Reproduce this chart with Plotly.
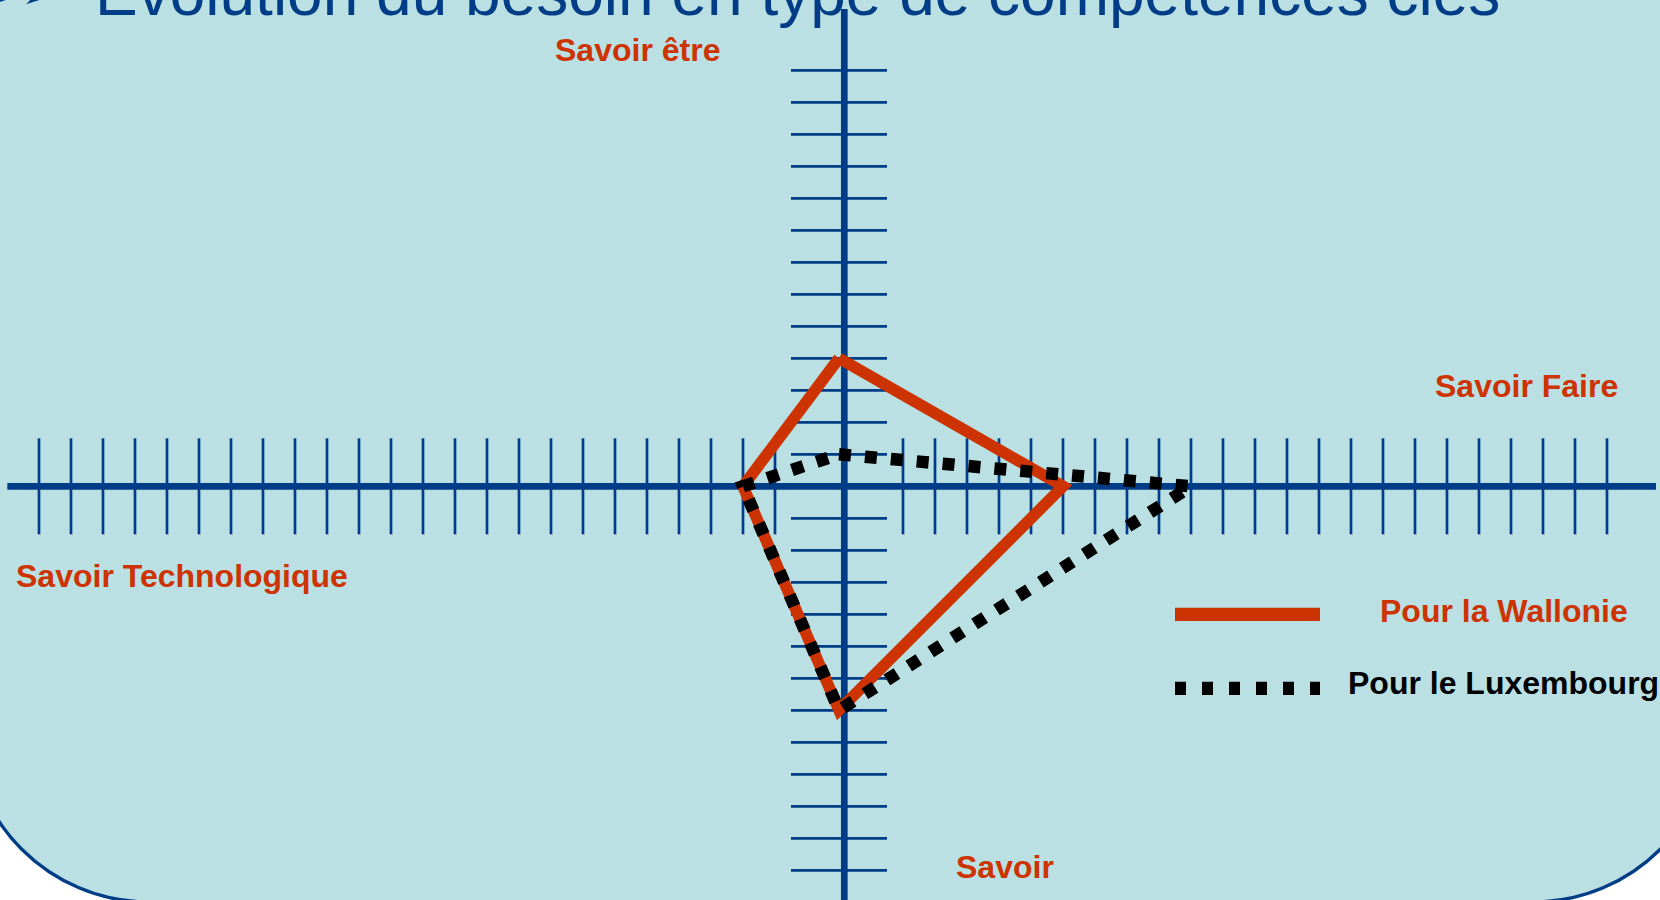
import plotly.graph_objects as go

# ---------------- data ----------------
categories = ["Savoir être", "Savoir Faire", "Savoir", "Savoir Technologique"]
wallonie = [4, 7, 7, 3]        # up, right, down, left (in tick units)
luxembourg = [1, 11, 7, 3]
series_names = ["Pour la Wallonie", "Pour le Luxembourg"]
x_tick_values = [k for k in range(-25, 25) if abs(k) > 1]
y_tick_values = [j for j in range(-12, 14) if j != 0]
title_text = "Evolution du besoin en type de compétences clés"

# ---------------- styles ----------------
W, H = 1660, 900
OX, OY = 839.0, 486.3   # pixel position of the origin
U = 32.0                # pixels per tick unit
BLUE = "#003D86"
BG = "#BAE0E3"
RED = "#CC3300"
BLACK = "#000000"
FONT = "Liberation Sans, Arial, sans-serif"


def X(px):
    return (px - OX) / U


def Y(py):
    return (OY - py) / U


def PX(px):
    return px / W


def PY(py):
    return 1 - py / H


def polygon(vals):
    up, right, down, left = vals
    return [0, right, 0, -left, 0], [up, 0, -down, 0, up]


fig = go.Figure()

# tick marks
tx, ty = [], []
for k in x_tick_values:
    tx += [k, k, None]
    ty += [1.5, -1.5, None]
for j in y_tick_values:
    tx += [-1.5, 1.5, None]
    ty += [j, j, None]
fig.add_trace(go.Scatter(x=tx, y=ty, mode="lines", line=dict(color=BLUE, width=2.7),
                         hoverinfo="skip", showlegend=False))

# axis lines
fig.add_trace(go.Scatter(x=[X(7.3), X(1656)], y=[0, 0], mode="lines",
                         line=dict(color=BLUE, width=6.7), hoverinfo="skip", showlegend=False))
fig.add_trace(go.Scatter(x=[X(844.3), X(844.3)], y=[Y(9), Y(910)], mode="lines",
                         line=dict(color=BLUE, width=6.7), hoverinfo="skip", showlegend=False))

# series
wx, wy = polygon(wallonie)
fig.add_trace(go.Scatter(x=wx, y=wy, mode="lines", name=series_names[0],
                         line=dict(color=RED, width=11.5), showlegend=False))
lx, ly = polygon(luxembourg)
fig.add_trace(go.Scatter(x=lx, y=ly, mode="lines", name=series_names[1],
                         line=dict(color=BLACK, width=12.5, dash="12px,14px"), showlegend=False))

# background rounded rectangle
xL, xR, yT, yB, r = -31.0, 1713.0, -200.0, 902.0, 180.0
k = 0.5523 * r
pts = [
    ("M", [(xL, yT)]),
    ("L", [(xL, yB - r)]),
    ("C", [(xL, yB - r + k), (xL + r - k, yB), (xL + r, yB)]),
    ("L", [(xR - r, yB)]),
    ("C", [(xR - r + k, yB), (xR, yB - r + k), (xR, yB - r)]),
    ("L", [(xR, yT)]),
]
path = ""
for cmd, ps in pts:
    path += cmd + " " + " ".join(f"{X(a):.4f},{Y(b):.4f}" for a, b in ps) + " "
path += "Z"

shapes = [
    dict(type="path", path=path, xref="x", yref="y", fillcolor=BG,
         line=dict(color=BLUE, width=3.3), layer="below"),
    # legend samples
    dict(type="line", xref="paper", yref="paper", x0=PX(1175), x1=PX(1320),
         y0=PY(614.3), y1=PY(614.3), line=dict(color=RED, width=13.3)),
    dict(type="line", xref="paper", yref="paper", x0=PX(1175), x1=PX(1320),
         y0=PY(688.3), y1=PY(688.3), line=dict(color=BLACK, width=13.3, dash="11px,16px")),
]

F = 32


def mid(baseline, size):
    return baseline - 0.3465 * size


annotations = [
    dict(text="<b>" + categories[0] + "</b>", x=PX(637), y=PY(mid(61, F)), xanchor="center",
         font=dict(color=RED, size=F)),
    dict(text="<b>" + categories[1] + "</b>", x=PX(1526), y=PY(mid(396.7, F)), xanchor="center",
         font=dict(color=RED, size=F)),
    dict(text="<b>" + categories[2] + "</b>", x=PX(1005), y=PY(mid(878, F)), xanchor="center",
         font=dict(color=RED, size=F)),
    dict(text="<b>" + categories[3] + "</b>", x=PX(14), y=PY(mid(586.7, F)), xanchor="left",
         font=dict(color=RED, size=F)),
    dict(text="<b>" + series_names[0] + "</b>", x=PX(1503.5), y=PY(mid(621.7, F)), xanchor="center",
         font=dict(color=RED, size=F)),
    dict(text="<b>" + series_names[1] + "</b>", x=PX(1503.5), y=PY(mid(694, F)), xanchor="center",
         font=dict(color=BLACK, size=F)),
    dict(text=title_text, x=PX(93), y=PY(mid(15, 64)), xanchor="left",
         font=dict(color=BLUE, size=64)),
    dict(text="➢➢", x=PX(-14), y=PY(mid(13, 56)), xanchor="left",
         font=dict(color=BLUE, size=40, family="DejaVu Sans")),
]
for a in annotations:
    a.update(xref="paper", yref="paper", yanchor="middle", showarrow=False)
    a["font"].setdefault("family", FONT)

fig.update_layout(
    width=W, height=H, autosize=False,
    margin=dict(l=0, r=0, t=0, b=0, pad=0),
    paper_bgcolor="white", plot_bgcolor="rgba(0,0,0,0)",
    xaxis=dict(range=[X(0), X(W)], visible=False, fixedrange=True),
    yaxis=dict(range=[Y(H), Y(0)], visible=False, fixedrange=True),
    shapes=shapes, annotations=annotations, showlegend=False,
    font=dict(family=FONT),
)

fig.write_html("out.html", config={"displayModeBar": False},
               post_script="document.body.style.margin='0';document.body.style.overflow='hidden';")
